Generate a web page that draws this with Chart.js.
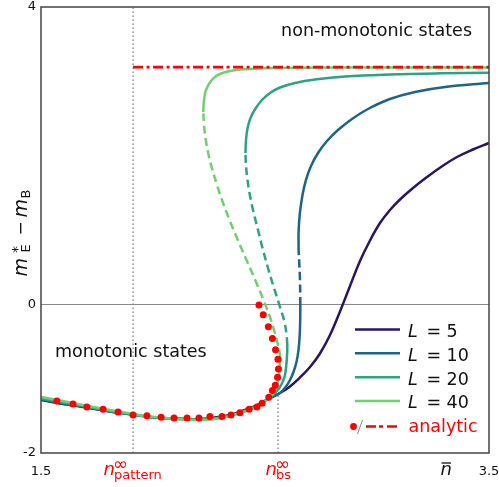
<!DOCTYPE html>
<html><head><meta charset="utf-8">
<script src="https://cdn.jsdelivr.net/npm/chart.js@4/dist/chart.umd.min.js"></script>
<style>html,body{margin:0;padding:0;background:#fff}</style>
</head><body>
<canvas id="c" width="499" height="487"></canvas>
<script>
// ---------- data ----------
const xTickValues = [1.5, 3.5];
const yTickValues = [-2, 0, 4];
const nPattern = 1.911;
const nBs = 2.558;
const nBsLineTop = -1.2;
const analyticLevel = 3.19;

// L = 5 (single stable branch)
const L5_x = [1.5,1.5848,1.6741,1.808,1.9107,1.9866,2.0759,2.1429,2.2098,2.2768,2.3438,2.4107,2.4554,2.4911,2.5223,2.567,2.6116,2.6563,2.7009,2.7455,2.7902,2.8348,2.8795,2.9241,2.9688,3.0134,3.058,3.1027,3.1607,3.2232,3.2857,3.3571,3.4286,3.5];
const L5_y = [-1.287,-1.334,-1.374,-1.442,-1.482,-1.516,-1.536,-1.543,-1.543,-1.522,-1.489,-1.422,-1.368,-1.314,-1.260,-1.193,-1.105,-0.984,-0.843,-0.661,-0.413,-0.096,0.247,0.583,0.859,1.094,1.269,1.410,1.565,1.713,1.848,1.982,2.083,2.170];

// L = 10
const L10_low_x = [1.5,1.5848,1.6741,1.808,1.9107,1.9866,2.0759,2.1429,2.2098,2.2768,2.3438,2.4107,2.4554,2.4911,2.5223,2.567,2.5938,2.6116,2.6272,2.6406,2.6496,2.6549,2.6571,2.6576];
const L10_low_y = [-1.280,-1.327,-1.368,-1.442,-1.482,-1.516,-1.536,-1.543,-1.545,-1.529,-1.496,-1.428,-1.374,-1.314,-1.260,-1.193,-1.105,-1.018,-0.910,-0.776,-0.614,-0.413,-0.211,-0.009];
const L10_mid_x = [2.6576,2.6571,2.6554,2.6527,2.65];
const L10_mid_y = [-0.009,0.193,0.395,0.569,0.731];
const L10_up_x = [2.65,2.6502,2.6563,2.6674,2.683,2.7054,2.7366,2.7768,2.8259,2.8884,2.9598,3.058,3.1696,3.3036,3.5];
const L10_up_y = [0.731,1.000,1.242,1.471,1.673,1.861,2.036,2.197,2.345,2.493,2.628,2.762,2.857,2.924,2.978];

// L = 20
const L20_low_x = [1.5,1.5848,1.6741,1.808,1.9107,1.9866,2.0759,2.1429,2.2098,2.2768,2.3438,2.4107,2.4554,2.4911,2.5223,2.5491,2.5692,2.5871,2.5951,2.5987,2.5996];
const L20_low_y = [-1.267,-1.314,-1.361,-1.435,-1.482,-1.516,-1.536,-1.545,-1.549,-1.536,-1.498,-1.435,-1.381,-1.321,-1.253,-1.179,-1.099,-0.978,-0.816,-0.668,-0.547];
const L20_mid_x = [2.5996,2.5964,2.5871,2.567,2.5402,2.5134,2.4888,2.4665,2.4464,2.4308,2.4196,2.4143,2.4129];
const L20_mid_y = [-0.547,-0.413,-0.238,-0.036,0.220,0.489,0.758,1.027,1.269,1.498,1.727,1.915,2.036];
const L20_up_x = [2.4129,2.4152,2.4223,2.4353,2.4576,2.4866,2.5223,2.567,2.6339,2.7232,2.8571,3.058,3.2812,3.5];
const L20_up_y = [2.036,2.211,2.372,2.507,2.635,2.749,2.843,2.917,2.978,3.025,3.065,3.092,3.108,3.116];

// L = 40
const L40_low_x = [1.5,1.5848,1.6741,1.808,1.9107,1.9866,2.0759,2.1429,2.2098,2.2768,2.3438,2.4107,2.4554,2.4911,2.5179,2.537,2.5491,2.5594,2.5652,2.5683];
const L40_low_y = [-1.247,-1.294,-1.348,-1.422,-1.475,-1.509,-1.536,-1.549,-1.556,-1.543,-1.502,-1.442,-1.388,-1.327,-1.260,-1.200,-1.132,-1.018,-0.870,-0.722];
const L40_mid_x = [2.5683,2.5647,2.5558,2.5402,2.5188,2.4933,2.4563,2.4174,2.3786,2.3415,2.3080,2.2857,2.2656,2.2482,2.2357,2.2277,2.2246];
const L40_mid_y = [-0.722,-0.641,-0.520,-0.345,-0.144,0.058,0.327,0.596,0.866,1.135,1.404,1.605,1.807,2.009,2.211,2.413,2.587];
const L40_up_x = [2.2246,2.2268,2.234,2.248,2.268,2.299,2.344,2.411,2.5,2.656,3.103,3.5];
const L40_up_y = [2.587,2.722,2.857,2.957,3.037,3.099,3.139,3.163,3.177,3.183,3.186,3.186];

// analytic
const analytic_x = [1.571,1.643,1.705,1.777,1.844,1.911,1.973,2.036,2.094,2.152,2.205,2.254,2.308,2.348,2.388,2.429,2.464,2.487,2.517,2.533,2.546,2.556,2.560,2.558,2.547,2.533,2.515,2.492,2.473];
const analytic_y = [-1.30,-1.34,-1.38,-1.41,-1.45,-1.49,-1.50,-1.52,-1.53,-1.53,-1.53,-1.51,-1.51,-1.49,-1.46,-1.41,-1.38,-1.33,-1.25,-1.16,-1.09,-0.98,-0.87,-0.74,-0.61,-0.46,-0.30,-0.14,-0.01];
const analyticLine_x = [nPattern, 3.5];

const seriesLabels = ['5', '10', '20', '40'];
const seriesColors = ['#2a1466', '#1d6487', '#2ba384', '#72cf70'];

// ---------- build ----------
const pts = (xs, ys) => xs.map((x, i) => ({x: x, y: ys[i]}));
const LW = 2.5, DASH = [8, 4.5];
function curve(xs, ys, color, dashed, order) {
  return {data: pts(xs, ys), showLine: true, borderColor: color, borderWidth: LW,
    borderDash: dashed ? DASH : [], pointRadius: 0, tension: 0.4, fill: false,
    borderCapStyle: 'butt', borderJoinStyle: 'round', order: order};
}
const datasets = [
  {data: pts(analytic_x, analytic_y), showLine: false, pointRadius: 3.5, pointBackgroundColor: '#ff0000', pointBorderWidth: 0, borderColor: '#ff0000', order: 0},
  {data: pts(analyticLine_x, [analyticLevel, analyticLevel]), showLine: true, borderColor: '#ff0000', borderWidth: 2.8, borderDash: [10, 3.5, 3, 3.5], pointRadius: 0, tension: 0, order: 1},
  curve(L40_low_x, L40_low_y, seriesColors[3], false, 2),
  curve(L40_mid_x, L40_mid_y, seriesColors[3], true, 2),
  curve(L40_up_x, L40_up_y, seriesColors[3], false, 2),
  curve(L20_low_x, L20_low_y, seriesColors[2], false, 3),
  curve(L20_mid_x, L20_mid_y, seriesColors[2], true, 3),
  curve(L20_up_x, L20_up_y, seriesColors[2], false, 3),
  curve(L10_low_x, L10_low_y, seriesColors[1], false, 4),
  curve(L10_mid_x, L10_mid_y, seriesColors[1], true, 4),
  curve(L10_up_x, L10_up_y, seriesColors[1], false, 4),
  curve(L5_x, L5_y, seriesColors[0], false, 5),
  {data: pts([nPattern, nPattern], [-2, 4]), showLine: true, borderColor: '#808080', borderWidth: 1.3, borderDash: [1.6, 2.4], pointRadius: 0, tension: 0, order: 9},
  {data: pts([nBs, nBs], [-2, nBsLineTop]), showLine: true, borderColor: '#808080', borderWidth: 1.3, borderDash: [1.6, 2.4], pointRadius: 0, tension: 0, order: 9}
];

const FF = '"DejaVu Sans"';
const decor = {
  id: 'decor',
  afterDatasetsDraw(chart) {
    const ctx = chart.ctx, a = chart.chartArea;
    const xs = chart.scales.x;
    ctx.save();
    // frame
    ctx.strokeStyle = '#444'; ctx.lineWidth = 1.5; ctx.setLineDash([]);
    ctx.strokeRect(a.left, a.top, a.right - a.left, a.bottom - a.top);

    ctx.textBaseline = 'alphabetic'; ctx.textAlign = 'left';
    // region annotations
    ctx.fillStyle = '#111';
    ctx.font = '17.5px ' + FF;
    ctx.textAlign = 'right';
    ctx.fillText('non-monotonic states', a.right - 17, a.top + 29);
    ctx.textAlign = 'left';
    ctx.fillText('monotonic states', a.left + 14, a.top + 350);

    // y axis title  m*_E − m_B
    ctx.save();
    ctx.translate(26.5, 233.5);
    ctx.rotate(-Math.PI / 2);
    ctx.fillStyle = '#111';
    ctx.font = 'italic 19px ' + FF; ctx.fillText('m', -43, 0);
    ctx.font = '13px ' + FF; ctx.fillText('E', -19, 3);
    ctx.font = '14px ' + FF; ctx.fillText('*', -19.5, -5);
    ctx.font = '17px ' + FF; ctx.fillText('\u2212', -2, -0.5);
    ctx.font = 'italic 19px ' + FF; ctx.fillText('m', 16, 0);
    ctx.font = '13px ' + FF; ctx.fillText('B', 35, 3);
    ctx.restore();

    // x axis extra labels
    const bl = a.bottom + 22;
    ctx.fillStyle = '#111';
    ctx.font = 'italic 18px ' + FF; ctx.fillText('n', 440.5, bl);
    ctx.strokeStyle = '#111'; ctx.lineWidth = 1.3;
    ctx.beginPath(); ctx.moveTo(441.5, bl - 12); ctx.lineTo(451, bl - 12); ctx.stroke();

    ctx.fillStyle = '#ff0000';
    const lab = (v, sub, nOff) => {
      const p = xs.getPixelForValue(v);
      ctx.font = 'italic 18px ' + FF; ctx.fillText('n', p + nOff, bl);
      ctx.font = '18px ' + FF; ctx.fillText('\u221E', p + nOff + 9.5, bl - 5);
      ctx.font = '13px ' + FF; ctx.fillText(sub, p + nOff + 10.5, bl + 4);
    };
    lab(nPattern, 'pattern', -29.5);
    lab(nBs, 'bs', -12.5);

    // legend
    const rows = [329.5, 353.3, 377.2, 401, 426.5];
    for (let i = 0; i < 4; i++) {
      const y = rows[i];
      ctx.strokeStyle = seriesColors[i]; ctx.lineWidth = 2.5; ctx.setLineDash([]);
      ctx.beginPath(); ctx.moveTo(355, y); ctx.lineTo(400, y); ctx.stroke();
      ctx.fillStyle = '#111';
      ctx.font = 'italic 17.5px ' + FF; ctx.fillText('L', 408, y + 7.3);
      ctx.font = '17.5px ' + FF; ctx.fillText('=', 426.5, y + 7.3);
      ctx.fillText(seriesLabels[i], 446.5, y + 7.3);
    }
    const ya = rows[4];
    ctx.fillStyle = '#ff0000';
    ctx.beginPath(); ctx.arc(353.5, ya, 3.4, 0, Math.PI * 2); ctx.fill();
    ctx.strokeStyle = '#888'; ctx.lineWidth = 1;
    ctx.beginPath(); ctx.moveTo(357.5, ya + 7.5); ctx.lineTo(362.5, ya - 6.5); ctx.stroke();
    ctx.strokeStyle = '#ff0000'; ctx.lineWidth = 2.6; ctx.setLineDash([10, 3, 4, 4]);
    ctx.beginPath(); ctx.moveTo(366, ya); ctx.lineTo(400, ya); ctx.stroke();
    ctx.setLineDash([]);
    ctx.font = '17.5px ' + FF; ctx.fillText('analytic', 408.5, ya + 5.5);
    ctx.restore();
  }
};

new Chart(document.getElementById('c'), {
  type: 'line',
  data: {datasets: datasets},
  options: {
    responsive: false, animation: false, devicePixelRatio: 1,
    layout: {padding: {left: 0, right: 10, top: 7, bottom: 0}},
    plugins: {legend: {display: false}, tooltip: {enabled: false}},
    scales: {
      x: {
        type: 'linear', min: 1.5, max: 3.5,
        afterBuildTicks: s => { s.ticks = xTickValues.map(v => ({value: v})); },
        afterFit: s => { s.height = 34; s.paddingLeft = 0; s.paddingRight = 0; },
        ticks: {font: {family: 'DejaVu Sans', size: 13}, color: '#111', padding: 11, maxRotation: 0, autoSkip: false},
        grid: {display: false, drawTicks: false},
        border: {display: false}
      },
      y: {
        type: 'linear', min: -2, max: 4,
        afterBuildTicks: s => { s.ticks = yTickValues.map(v => ({value: v})); },
        afterFit: s => { s.width = 41; s.paddingTop = 0; s.paddingBottom = 0; },
        ticks: {font: {family: 'DejaVu Sans', size: 13}, color: '#111', padding: 5, autoSkip: false},
        grid: {drawTicks: false, lineWidth: 1, color: c => (c.tick && c.tick.value === 0) ? '#8a8a8a' : 'rgba(0,0,0,0)'},
        border: {display: false}
      }
    }
  },
  plugins: [decor]
});
</script>
</body></html>
